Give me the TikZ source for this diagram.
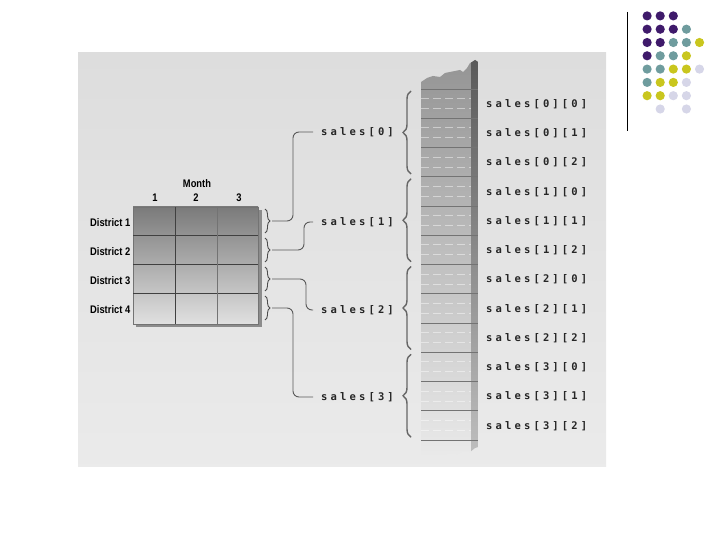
\documentclass[tikz,border=0pt]{standalone}
\usepackage{fontspec}
\newfontfamily\headfont[FakeStretch=0.85]{Liberation Sans}
\newfontfamily\memfont[LetterSpace=30]{DejaVu Sans Mono}
\usetikzlibrary{decorations.pathreplacing}

\definecolor{panelgray}{HTML}{DDDDDD}
\definecolor{dotpurple}{HTML}{3F1A6B}
\definecolor{dotteal}{HTML}{6F9C9E}
\definecolor{dotyellow}{HTML}{C9C61E}
\definecolor{dotlilac}{HTML}{D6D6E8}

\begin{document}
\begin{tikzpicture}[x=1pt, y=-1pt,
    headlabel/.style={font=\headfont\bfseries\fontsize{11}{12}\selectfont, inner sep=0pt},
    memlabel/.style={font=\memfont\bfseries\fontsize{10.5}{12}\selectfont, text=black!85, inner sep=0pt, anchor=west},
    smallbrace/.style={decorate, decoration={brace, amplitude=5pt}, draw=black!70, line width=0.9pt},
    bigbrace/.style={decorate, decoration={brace, amplitude=8pt}, draw=black!60, line width=1.4pt},
    link/.style={draw=black!65, line width=0.9pt, rounded corners=6pt},
    cellline/.style={draw=black!55, line width=0.8pt},
    dashline/.style={draw=white, opacity=0.45, line width=0.8pt, dash pattern=on 8pt off 4pt}]
  \useasboundingbox (0,0) rectangle (720,540);

  % Corner dots
  \draw[line width=1pt] (627,12) -- (627,131);
  \foreach \c/\r/\col in {1/1/dotpurple, 2/1/dotpurple, 3/1/dotpurple,
      1/2/dotpurple, 2/2/dotpurple, 3/2/dotpurple, 4/2/dotteal,
      1/3/dotpurple, 2/3/dotpurple, 3/3/dotteal, 4/3/dotteal, 5/3/dotyellow,
      1/4/dotpurple, 2/4/dotteal, 3/4/dotteal, 4/4/dotyellow,
      1/5/dotteal, 2/5/dotteal, 3/5/dotyellow, 4/5/dotyellow, 5/5/dotlilac,
      1/6/dotteal, 2/6/dotyellow, 3/6/dotyellow, 4/6/dotlilac,
      1/7/dotyellow, 2/7/dotyellow, 3/7/dotlilac, 4/7/dotlilac,
      2/8/dotlilac, 4/8/dotlilac}
    \fill[\col] (634+13.1*\c, 2.6+13.3*\r) circle (4.6);

  % Panel
  \shade[top color=panelgray, bottom color=panelgray!60!white] (78,53) rectangle (606,466);

  % Two-dimensional table
  \fill[black!45] (136,210) rectangle (262,327);
  \shade[top color=black!52, bottom color=black!12] (133,207) rectangle (258,324);
  \draw[black!55, line width=0.6pt] (133,207) rectangle (258,324);
  \foreach \y in {235,264,293}
    \draw[black!75, line width=0.9pt] (133,\y) -- (258,\y);
  \draw[black!75, line width=0.9pt] (175,207) -- (175,324);
  \draw[black!55, line width=0.6pt] (217,207) -- (217,324);

  \node[headlabel] (month) at (197,184) {Month};
  \node[headlabel] (col1) at (155,198) {1};
  \node[headlabel] (col2) at (196,198) {2};
  \node[headlabel] (col3) at (239,198) {3};
  \foreach \i in {1,...,4}
    \node[headlabel, anchor=west] (dist\i) at (90,194+29*\i) {District \i};

  % Row braces
  \foreach \i in {0,...,3} {
    \draw[smallbrace] (265,209+29*\i) -- (265,233+29*\i);
    \coordinate (b\i) at (272,221+29*\i);
  }

  % Row labels
  \node[memlabel] (s0) at (321,132) {sales[0]};
  \node[memlabel] (s1) at (321,222) {sales[1]};
  \node[memlabel] (s2) at (321,310) {sales[2]};
  \node[memlabel] (s3) at (321,397) {sales[3]};

  % Connectors
  \draw[link] (b0) -- ++(21,0) |- ([xshift=-8pt]s0.west);
  \draw[link] (b1) -- ++(32,0) |- ([xshift=-8pt]s1.west);
  \draw[link] (b2) -- ++(34,0) |- ([xshift=-8pt]s2.west);
  \draw[link] (b3) -- ++(21,0) |- ([xshift=-8pt]s3.west);

  % Memory column
  \begin{scope}
    \clip (421,82) -- (427,78) -- (433,76) -- (440,77) -- (445,73) -- (450,72)
      -- (455,71) -- (460,70) -- (463,72) -- (467,68) -- (470,63) -- (472,62)
      -- (475,60) -- (478,62) -- (478,447) -- (475,448) -- (470,452) -- (463,451)
      -- (457,454) -- (450,453) -- (443,455) -- (437,458) -- (432,456) -- (427,457)
      -- (421,458) -- cycle;
    \shade[top color=black!42, bottom color=black!8] (421,58) rectangle (478,460);
    \shade[top color=black!65, bottom color=black!25] (471,58) rectangle (478,460);
    \foreach \k in {0,...,11} {
      \draw[dashline] (421,98.5+29.25*\k) -- (471,98.5+29.25*\k);
      \draw[dashline] (421,108.5+29.25*\k) -- (471,108.5+29.25*\k);
    }
    \foreach \k in {0,...,12}
      \draw[cellline] (421,89+29.25*\k) -- (478,89+29.25*\k);
  \end{scope}

  % Array braces
  \foreach \i in {0,...,3}
    \draw[bigbrace] (411,174+87.75*\i) -- (411,91+87.75*\i);

  % Element labels
  \foreach \k in {0,...,11} {
    \pgfmathtruncatemacro{\row}{\k/3}
    \pgfmathtruncatemacro{\col}{mod(\k,3)}
    \node[memlabel] (e\k) at (486,104+29.25*\k) {sales[\row][\col]};
  }
\end{tikzpicture}
\end{document}
